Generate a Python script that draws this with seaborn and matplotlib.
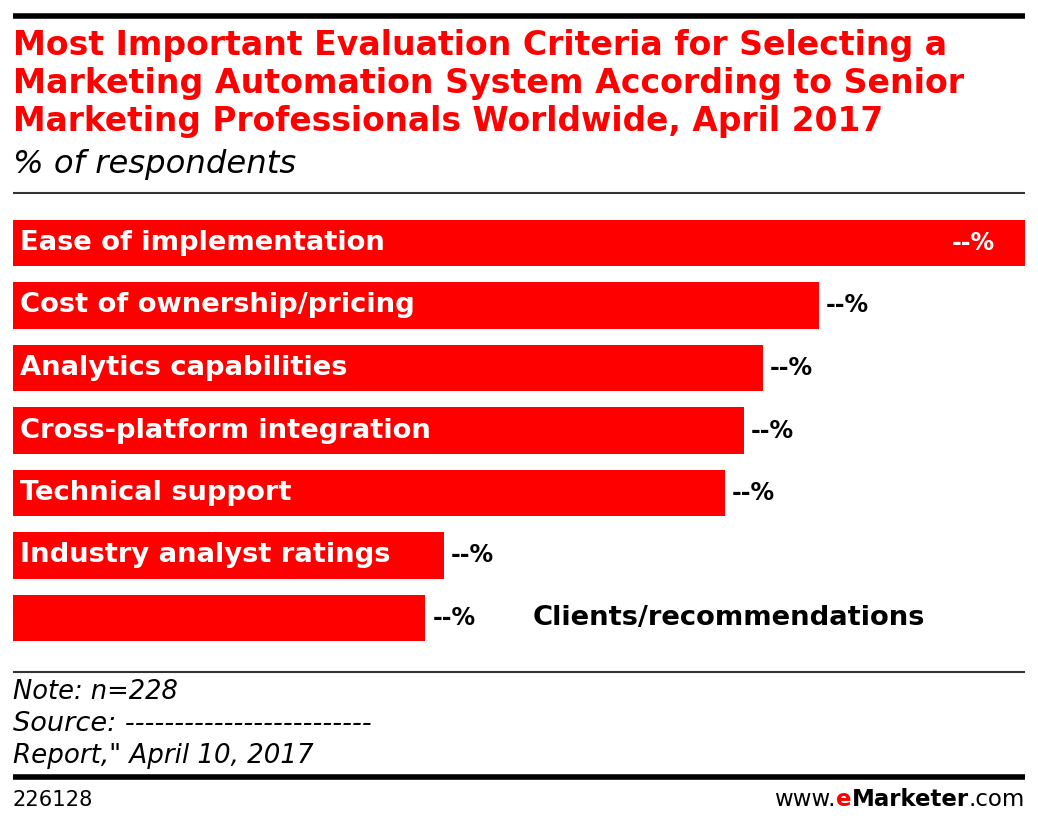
import matplotlib
matplotlib.use("Agg")
import matplotlib.pyplot as plt
import seaborn as sns
import pandas as pd

categories = ["Ease of implementation", "Cost of ownership/pricing", "Analytics capabilities",
              "Cross-platform integration", "Technical support", "Industry analyst ratings",
              "Clients/recommendations"]
values = [54, 43, 40, 39, 38, 23, 22]
value_labels = ["--%", "--%", "--%", "--%", "--%", "--%", "--%"]

title_lines = ["Most Important Evaluation Criteria for Selecting a",
               "Marketing Automation System According to Senior",
               "Marketing Professionals Worldwide, April 2017"]
subtitle = "% of respondents"
notes = ["Note: n=228", "Source: -------------------------", "Report,\" April 10, 2017"]
chart_id = "226128"

RED = "#FF0000"
W, H = 1038, 827

sns.set_theme(style="white")
plt.rcParams['font.family'] = ['DejaVu Sans']

fig = plt.figure(figsize=(W / 100, H / 100), dpi=100)

def fy(py):
    return 1 - py / H

def fx(px):
    return px / W

# axes for bars
ax_top, ax_bot = 211.75, 649.25
ax = fig.add_axes([fx(13), fy(ax_bot), fx(1025) - fx(13), fy(ax_top) - fy(ax_bot)])
df = pd.DataFrame({"cat": categories, "val": values})
sns.barplot(data=df, x="val", y="cat", orient="h", color=RED, saturation=1, width=0.74,
            ax=ax, edgecolor="none")
ax.set_xlim(0, max(values))
ax.set_ylim(6.5, -0.5)
ax.axis("off")

fig.canvas.draw()
r = fig.canvas.get_renderer()

def fit(t, w):
    for _ in range(3):
        bb = t.get_window_extent(r)
        t.set_fontsize(t.get_fontsize() * w / bb.width)

LAB_FS = 19.7
# bar labels
for i, (c, v, lab) in enumerate(zip(categories, values, value_labels)):
    if i == len(categories) - 1:
        t = ax.annotate(c, xy=(0, i), xytext=(520, 0), textcoords="offset pixels",
                        ha="left", va="center", color="black", fontweight="bold", fontsize=LAB_FS)
    else:
        t = ax.annotate(c, xy=(0, i), xytext=(7, 0), textcoords="offset pixels",
                        ha="left", va="center", color="white", fontweight="bold", fontsize=LAB_FS)
    if i == 0:
        ax.annotate(lab, xy=(v, i), xytext=(-30, 0), textcoords="offset pixels",
                    ha="right", va="center", color="white", fontweight="bold", fontsize=17)
    else:
        ax.annotate(lab, xy=(v, i), xytext=(7, 0), textcoords="offset pixels",
                    ha="left", va="center", color="black", fontweight="bold", fontsize=17)

# title
ty = [45, 83, 122]
title_widths = [935, 955, 870]
for line, y, w in zip(title_lines, ty, title_widths):
    t = fig.text(fx(13), fy(y), line, ha="left", va="center", color=RED, fontweight="bold", fontsize=24)
    fit(t, w)

t = fig.text(fx(13), fy(164), subtitle, ha="left", va="center", color="black",
             fontstyle="italic", fontsize=22)
fit(t, 283)

# notes
for line, y, w in zip(notes, [692, 724, 756], [165, 357, 302]):
    t = fig.text(fx(13), fy(y), line, ha="left", va="center", color="black",
                 fontstyle="italic", fontsize=17)
    fit(t, w)

t = fig.text(fx(13), fy(800), chart_id, ha="left", va="center", color="black", fontsize=15)
fit(t, 80)

# footer logo
ID = matplotlib.transforms.IdentityTransform()
t1 = fig.text(fx(1025), fy(800), ".com", ha="right", va="center", color="black", fontsize=16.5)
fig.canvas.draw()
bb1 = t1.get_window_extent(r)
t2 = fig.text(bb1.x0, bb1.y0, "Marketer", ha="right", va="bottom", color="black",
              fontweight="bold", fontsize=16.5, transform=ID)
fig.canvas.draw()
bb2 = t2.get_window_extent(r)
t3 = fig.text(bb2.x0, bb1.y0, "e", ha="right", va="bottom", color=RED, fontweight="bold",
              fontsize=16.5, transform=ID)
fig.canvas.draw()
bb3 = t3.get_window_extent(r)
t4 = fig.text(bb3.x0, bb1.y0, "www.", ha="right", va="bottom", color="black",
              fontsize=16.5, transform=ID)

# rules
def rule(y, lw, color="black"):
    fig.add_artist(plt.Line2D([fx(13), fx(1025)], [fy(y), fy(y)], color=color, lw=lw,
                              solid_capstyle="butt", transform=fig.transFigure))

rule(15.5, 4.0)
rule(193, 1.5, "#333333")
rule(672, 1.5, "#333333")
rule(777, 4.0)

fig.savefig("out.png", dpi=100)
